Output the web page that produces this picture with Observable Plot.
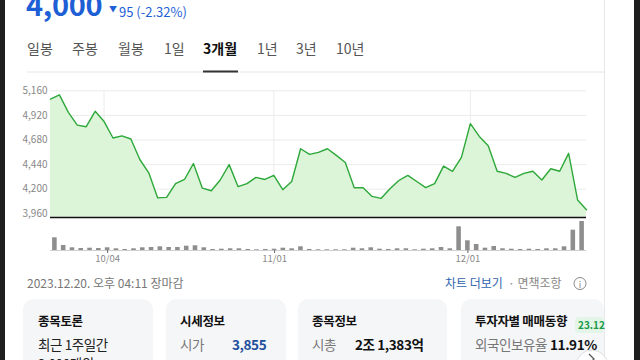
<!DOCTYPE html>
<html><head><meta charset="utf-8">
<script src="https://cdn.jsdelivr.net/npm/d3@7"></script>
<script src="https://cdn.jsdelivr.net/npm/@observablehq/plot@0.6"></script>
<style>
html,body{margin:0;padding:0;width:640px;height:360px;overflow:hidden;background:#fff;font-family:"Noto Sans CJK KR","Noto Sans",sans-serif;}
#bg{position:absolute;left:0;top:0}
#price{position:absolute;left:0;top:80px}
#vol{position:absolute;left:0;top:218px}
</style></head><body>
<svg id="bg" width="640" height="360" font-family="'Noto Sans CJK KR','Noto Sans',sans-serif">
  <rect x="0" y="0" width="5" height="360" fill="#1e1e1e"/>
  <rect x="634" y="0" width="6" height="360" fill="#1e1e1e"/>
  <line x1="604.5" y1="0" x2="604.5" y2="360" stroke="#e8e8e8"/>
  <text x="26" y="16" font-size="29" font-weight="600" fill="#1e5fd6" letter-spacing="-0.3">4,000</text>
  <text x="109" y="12" font-size="8" fill="#1e5fd6">▼</text>
  <text x="119" y="17" font-size="13" fill="#1e5fd6">95 (-2.32%)</text>
  <g font-size="14" fill="#555">
    <text x="27" y="54">일봉</text>
    <text x="72" y="54">주봉</text>
    <text x="118" y="54">월봉</text>
    <text x="164" y="54">1일</text>
    <text x="203" y="54" font-weight="700" fill="#111">3개월</text>
    <text x="257" y="54">1년</text>
    <text x="296" y="54">3년</text>
    <text x="336" y="54">10년</text>
  </g>
  <line x1="27" y1="72" x2="604" y2="72" stroke="#e6e6e6"/>
  <rect x="203" y="70.5" width="35" height="2" fill="#333"/>
  <text x="27" y="288" font-size="12" fill="#777">2023.12.20. 오후 04:11 장마감</text>
  <text x="445" y="288" font-size="12" fill="#2f63b0">차트 더보기</text>
  <text x="508" y="288" font-size="12" fill="#888">· 면책조항</text>
  <circle cx="580" cy="283.5" r="6" fill="none" stroke="#888" stroke-width="1"/>
  <text x="580" y="287.5" font-size="9" fill="#888" text-anchor="middle">i</text>
  <rect x="23" y="299" width="130" height="80" rx="10" fill="#f5f6f8"/>
  <rect x="166" y="299" width="120" height="80" rx="10" fill="#f5f6f8"/>
  <rect x="298" y="299" width="149" height="80" rx="10" fill="#f5f6f8"/>
  <rect x="461" y="299" width="143" height="80" rx="10" fill="#f5f6f8"/>
  <g font-size="12.5" font-weight="700" fill="#111" letter-spacing="-0.3">
    <text x="38" y="326">종목토론</text>
    <text x="180" y="326">시세정보</text>
    <text x="312" y="326">종목정보</text>
    <text x="475" y="326">투자자별 매매동향</text>
  </g>
  <rect x="575" y="317" width="29" height="16" rx="4" fill="#e3f5e7"/>
  <text x="578" y="329" font-size="10" font-weight="700" fill="#1c9a4a">23.12</text>
  <g font-size="13.5" letter-spacing="-0.4">
    <text x="38" y="350" fill="#222">최근 1주일간</text>
    <text x="38" y="369" fill="#222">2,000개의</text>
    <text x="180" y="350" fill="#777">시가</text>
    <text x="232" y="350" fill="#1d4f9c" font-weight="700">3,855</text>
    <text x="312" y="350" fill="#777">시총</text>
    <text x="355" y="350" fill="#111" font-weight="700">2조 1,383억</text>
    <text x="475" y="350" fill="#777">외국인보유율</text>
    <text x="550" y="350" fill="#111" font-weight="700">11.91%</text>
  </g>
  <rect x="605" y="299" width="29" height="61" fill="#fff"/>
  <circle cx="592" cy="366" r="16" fill="#fff" stroke="#ddd"/>
  <path d="M589 354 l5 5 l-5 5" fill="none" stroke="#555" stroke-width="1.3"/>
</svg>
<div id="price"></div>
<div id="vol"></div>
<script>
// Closing prices, 2023-09-20 .. 2023-12-20 (61 trading days)
const prices = [5080, 5120, 4950, 4825, 4810, 4960, 4860, 4700, 4720, 4690,
  4490, 4360, 4115, 4120, 4255, 4295, 4450, 4210, 4185, 4290,
  4440, 4225, 4255, 4315, 4295, 4335, 4195, 4275, 4595, 4540,
  4560, 4595, 4530, 4460, 4215, 4215, 4130, 4110, 4205, 4285,
  4335, 4275, 4215, 4255, 4425, 4375, 4510, 4840, 4715, 4625,
  4375, 4355, 4315, 4355, 4375, 4290, 4400, 4375, 4550, 4095, 4000];
// Volume (relative units)
const volumes = [127, 50, 27, 20, 23, 20, 27, 17, 10, 17,
  27, 30, 37, 30, 30, 43, 47, 27, 10, 13,
  17, 17, 10, 7, 10, 13, 23, 17, 37, 10,
  7, 7, 7, 7, 23, 17, 27, 13, 10, 17,
  17, 7, 13, 17, 30, 17, 237, 97, 60, 23,
  40, 17, 13, 10, 13, 10, 17, 17, 37, 203, 290];
const priceTicks = [3960, 4200, 4440, 4680, 4920, 5160];
const dateTickIdx = [6, 25, 47];
const dateTickLabels = ["10/04", "11/01", "12/01"];

const data = prices.map((p, i) => ({i, price: p, vol: volumes[i]}));
const yMin = 3924, yMax = 5212;
const font = "'Noto Sans CJK KR','Noto Sans',sans-serif";

const pricePlot = Plot.plot({
  width: 600, height: 140,
  marginLeft: 50, marginRight: 14, marginTop: 5, marginBottom: 3,
  style: {background: "transparent", fontFamily: font, overflow: "visible"},
  x: {domain: [0, prices.length - 1], axis: null, label: null},
  y: {domain: [yMin, yMax], axis: null, label: null},
  marks: [
    Plot.ruleY(priceTicks, {stroke: "#ebebeb"}),
    Plot.ruleX(dateTickIdx, {y1: yMin, y2: 5160, stroke: "#ececec"}),
    Plot.areaY(data, {x: "i", y1: yMin, y2: "price", fill: "#dcf5d9"}),
    Plot.lineY(data, {x: "i", y: "price", stroke: "#2ea83a", strokeWidth: 1.4}),
    Plot.ruleY([yMin], {stroke: "#111", strokeWidth: 1.6}),
    Plot.axisY(priceTicks, {label: null, tickSize: 0, tickPadding: 3, tickFormat: d3.format(","), fontSize: 10, fill: "#888"})
  ]
});
document.getElementById("price").appendChild(pricePlot);

const volPlot = Plot.plot({
  width: 600, height: 45,
  marginLeft: 50, marginRight: 14, marginTop: 3, marginBottom: 13,
  style: {background: "transparent", fontFamily: font, overflow: "visible"},
  x: {type: "band", domain: data.map(d => d.i), paddingInner: 0.48, paddingOuter: 0.24, axis: null, label: null},
  y: {domain: [0, d3.max(volumes)], axis: null, label: null},
  marks: [
    Plot.barY(data, {x: "i", y: "vol", fill: "#8e8e8e"}),
    Plot.ruleY([0], {stroke: "#cfcfcf"}),
    Plot.axisX(dateTickIdx, {label: null, tickSize: 3, tickPadding: 2, fontSize: 9.5, fill: "#888", stroke: "#666",
      tickFormat: i => dateTickLabels[dateTickIdx.indexOf(i)]})
  ]
});
document.getElementById("vol").appendChild(volPlot);
</script>
</body></html>
